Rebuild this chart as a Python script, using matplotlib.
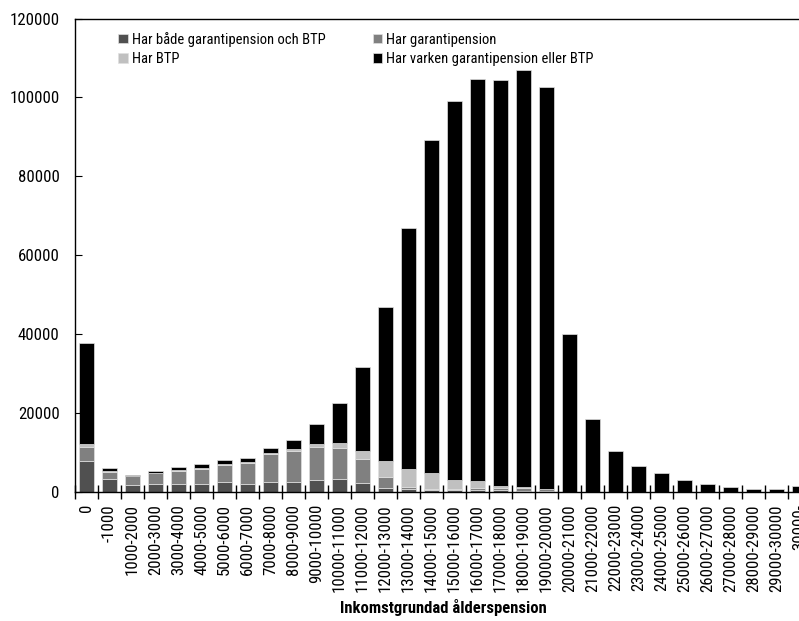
import numpy as np
import matplotlib
matplotlib.use("Agg")
import matplotlib.pyplot as plt
from matplotlib import font_manager

# Income brackets (inkomstgrundad ålderspension, kr/month)
categories = ["0", "-1000"] + [f"{a}-{a + 1000}" for a in range(1000, 30000, 1000)] + ["30000-"]

# Number of persons per group
both = [7750, 3170, 1650, 1980, 1820, 1990, 2330, 1990, 2500, 2500, 3010, 3090, 2240, 890,
        630, 470, 380, 380, 300, 200, 200, 0, 0, 0, 0, 0, 0, 0, 0, 0, 0, 0]
garanti = [3450, 1860, 2290, 2640, 3380, 3810, 4320, 5160, 6940, 7870, 8380, 8040, 6010, 2790,
           430, 250, 340, 590, 500, 690, 430, 0, 0, 0, 0, 0, 0, 0, 0, 0, 0, 0]
btp = [860, 170, 100, 150, 260, 250, 330, 250, 250, 340, 600, 1190, 2120, 4070,
       4740, 3980, 2200, 1700, 600, 200, 100, 0, 0, 0, 0, 0, 0, 0, 0, 0, 0, 0]
neither = [25740, 770, 150, 360, 760, 850, 1020, 1110, 1440, 2370, 5150, 10070, 21330, 39110,
           60950, 84490, 96170, 102010, 103100, 105880, 101920, 40000, 18330, 10200, 6480,
           4610, 2920, 1800, 1140, 640, 640, 1400]

series = [
    ("Har både garantipension och BTP", both, "#505050"),
    ("Har garantipension", garanti, "#808080"),
    ("Har BTP", btp, "#c0c0c0"),
    ("Har varken garantipension eller BTP", neither, "#000000"),
]

# pick a condensed font if one is installed
installed = {f.name for f in font_manager.fontManager.ttflist}
tick_size, leg_size, lab_size = 12.1, 10.5, 12
for cand in ["Liberation Sans Narrow", "Roboto Condensed", "Open Sans Condensed", "DejaVu Sans Condensed"]:
    if cand in installed:
        family = cand
        break
else:
    family = "Liberation Sans"
    tick_size, leg_size, lab_size = 11, 9, 10
plt.rcParams["font.family"] = [family, "DejaVu Sans"]

fig = plt.figure(figsize=(7.99, 6.21), dpi=100)
ax = fig.add_axes([0.0939, 0.2085, 0.921, 0.7617])

x = np.arange(len(categories))
bottom = np.zeros(len(categories))
handles = {}
for label, vals, color in series:
    vals = np.array(vals, dtype=float)
    bars = ax.bar(x, vals, bottom=bottom, width=0.65, color=color,
                  edgecolor="#e0e0e0", linewidth=0.5, label=label)
    handles[label] = bars
    bottom += vals

ax.set_xlim(-0.5, len(categories) - 0.5)
ax.set_ylim(0, 120000)
ax.set_yticks(np.arange(0, 120001, 20000))
ax.tick_params(axis="y", direction="in", length=5, pad=11, labelsize=tick_size)

# ticks at bracket boundaries, labels at bar centres
ax.set_xticks(np.arange(-0.5, len(categories), 1.0))
ax.set_xticklabels([])
ax.tick_params(axis="x", which="major", direction="inout", length=10, width=1)
ax.set_xticks(x, minor=True)
ax.set_xticklabels(categories, minor=True, rotation=90, fontsize=tick_size)
ax.tick_params(axis="x", which="minor", length=0, pad=9)

ax.spines["right"].set_visible(False)
for side in ["left", "top", "bottom"]:
    ax.spines[side].set_linewidth(1)

fig.text(443 / 799, 1 - 607 / 621, "Inkomstgrundad ålderspension",
         fontweight="bold", fontsize=lab_size, ha="center", va="center")

order = [series[0][0], series[2][0], series[1][0], series[3][0]]
ax.legend([handles[k] for k in order], order, ncol=2, frameon=False,
          loc="upper left", bbox_to_anchor=(0.148, 0.949), bbox_transform=fig.transFigure,
          handlelength=0.65, handleheight=0.65, handletextpad=0.3,
          columnspacing=3.2, labelspacing=0.4, borderaxespad=0, borderpad=0,
          fontsize=leg_size)

fig.savefig("out.png", dpi=100)
